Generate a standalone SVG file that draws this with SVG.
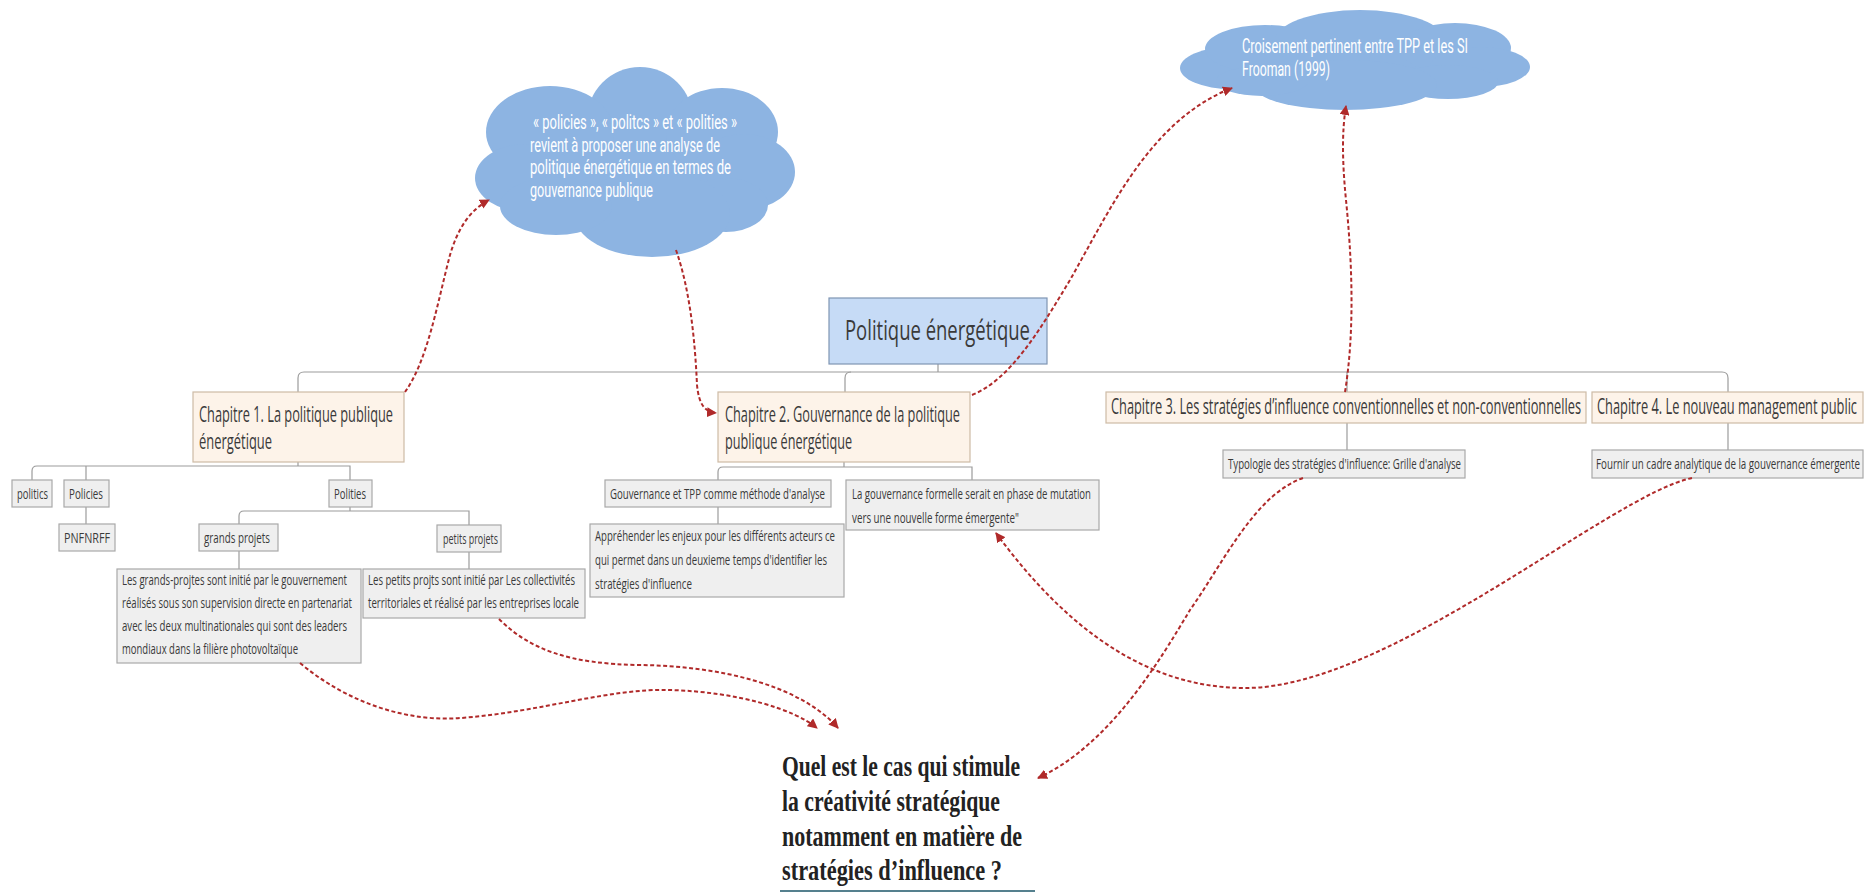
<svg xmlns="http://www.w3.org/2000/svg" width="1866" height="893" viewBox="0 0 1866 893">
<style>
.bg{fill:#ffffff}
.chap{fill:#fdf3e9;stroke:#cdbba6;stroke-width:1.2}
.leaf{fill:#efefef;stroke:#a8a8a8;stroke-width:1.2}
.root{fill:#c6dbf6;stroke:#7f95b3;stroke-width:1.2}
.t{font-family:"Open Sans","Liberation Sans",sans-serif;fill:#3a3a3a}
.ch{font-size:22px}
.sm{font-size:15px}
.cloud{fill:#8db4e2}
.ct{font-family:Roboto,"Liberation Sans",sans-serif;font-size:20px;fill:#ffffff}
.q{font-family:"Liberation Serif",serif;font-weight:bold;font-size:29px;fill:#222222}
.tree{fill:none;stroke:#9c9c9c;stroke-width:1.2}
.rel{fill:none;stroke:#b02a2a;stroke-width:2;stroke-dasharray:4 2.5}
</style>
<defs>
<marker id="ah" viewBox="0 0 10 10" refX="9" refY="5" markerWidth="5" markerHeight="5" orient="auto" markerUnits="strokeWidth">
<path d="M0,0 L10,5 L0,10 z" fill="#b02a2a"/>
</marker>
</defs>
<rect class="bg" x="0" y="0" width="1866" height="893"/>

<g id="tree-connectors">
<path class="tree" d="M938,364 V372"/>
<path class="tree" d="M298,392 V378 Q298,372 304,372 H1722 Q1728,372 1728,378 V392"/>
<path class="tree" d="M845,392 V378 Q845,372 851,372"/>
<path class="tree" d="M1347,372 V392"/>
<path class="tree" d="M298,462 V466"/>
<path class="tree" d="M32,480 V471 Q32,466 37,466 H350 V480"/>
<path class="tree" d="M86,466 V480"/>
<path class="tree" d="M86,507 V524"/>
<path class="tree" d="M350,507 V511"/>
<path class="tree" d="M239,524 V516 Q239,511 244,511 H469 V525"/>
<path class="tree" d="M239,551 V569"/>
<path class="tree" d="M469,552 V569"/>
<path class="tree" d="M844,462 V467"/>
<path class="tree" d="M718,480 V472 Q718,467 723,467 H972 V480"/>
<path class="tree" d="M718,507 V524"/>
<path class="tree" d="M1347,423 V450"/>
<path class="tree" d="M1728,423 V450"/>
</g>

<g id="cloud-1">
<ellipse class="cloud" cx="635" cy="165" rx="130" ry="62"/>
<circle class="cloud" cx="640" cy="120" r="53"/>
<ellipse class="cloud" cx="550" cy="132" rx="64" ry="46"/>
<ellipse class="cloud" cx="722" cy="132" rx="56" ry="44"/>
<ellipse class="cloud" cx="526" cy="178" rx="51" ry="34"/>
<ellipse class="cloud" cx="744" cy="172" rx="51" ry="38"/>
<ellipse class="cloud" cx="726" cy="205" rx="42" ry="27"/>
<ellipse class="cloud" cx="652" cy="214" rx="78" ry="43"/>
<ellipse class="cloud" cx="556" cy="206" rx="56" ry="29"/>
<text class="ct" x="533" y="129" textLength="204" lengthAdjust="spacingAndGlyphs">« policies », « politcs » et « polities »</text>
<text class="ct" x="530" y="152" textLength="190" lengthAdjust="spacingAndGlyphs">revient à proposer une analyse de</text>
<text class="ct" x="530" y="174" textLength="201" lengthAdjust="spacingAndGlyphs">politique énergétique  en termes de</text>
<text class="ct" x="530" y="197" textLength="123" lengthAdjust="spacingAndGlyphs">gouvernance publique</text>
</g>

<g id="cloud-2">
<ellipse class="cloud" cx="1355" cy="65" rx="150" ry="33"/>
<ellipse class="cloud" cx="1231" cy="68" rx="51" ry="21"/>
<ellipse class="cloud" cx="1265" cy="49" rx="60" ry="24"/>
<ellipse class="cloud" cx="1360" cy="42" rx="86" ry="32"/>
<ellipse class="cloud" cx="1455" cy="48" rx="56" ry="25"/>
<ellipse class="cloud" cx="1480" cy="67" rx="50" ry="20"/>
<ellipse class="cloud" cx="1448" cy="82" rx="50" ry="17"/>
<ellipse class="cloud" cx="1345" cy="85" rx="92" ry="25"/>
<ellipse class="cloud" cx="1262" cy="81" rx="46" ry="15"/>
<text class="ct" x="1242" y="53" textLength="226" lengthAdjust="spacingAndGlyphs">Croisement pertinent entre TPP et les SI</text>
<text class="ct" x="1242" y="76" textLength="88" lengthAdjust="spacingAndGlyphs">Frooman (1999)</text>
</g>

<g id="root">
<rect class="root" x="829" y="298" width="218" height="66"/>
<text class="t" x="845" y="340" font-size="27" fill="#3a4656" textLength="185" lengthAdjust="spacingAndGlyphs">Politique énergétique</text>
</g>

<g id="ch1">
<rect class="chap" x="193" y="392" width="211" height="70"/>
<text class="t ch" x="199" y="422" textLength="194" lengthAdjust="spacingAndGlyphs">Chapitre 1. La politique publique</text>
<text class="t ch" x="199" y="449" textLength="73" lengthAdjust="spacingAndGlyphs">énergétique</text>
</g>
<g id="ch2">
<rect class="chap" x="718" y="392" width="252" height="70"/>
<text class="t ch" x="725" y="422" textLength="235" lengthAdjust="spacingAndGlyphs">Chapitre 2. Gouvernance de la politique</text>
<text class="t ch" x="725" y="449" textLength="127" lengthAdjust="spacingAndGlyphs">publique énergétique</text>
</g>
<g id="ch3">
<rect class="chap" x="1106" y="392" width="480" height="31"/>
<text class="t ch" x="1111" y="414" textLength="470" lengthAdjust="spacingAndGlyphs">Chapitre 3. Les stratégies d’influence conventionnelles et non-conventionnelles</text>
</g>
<g id="ch4">
<rect class="chap" x="1592" y="392" width="271" height="31"/>
<text class="t ch" x="1597" y="414" textLength="260" lengthAdjust="spacingAndGlyphs">Chapitre 4. Le nouveau management public</text>
</g>

<g id="politics">
<rect class="leaf" x="12" y="480" width="40" height="27"/>
<text class="t sm" x="17" y="499" textLength="31" lengthAdjust="spacingAndGlyphs">politics</text>
</g>
<g id="policies">
<rect class="leaf" x="64" y="480" width="45" height="27"/>
<text class="t sm" x="69" y="499" textLength="34" lengthAdjust="spacingAndGlyphs">Policies</text>
</g>
<g id="polities">
<rect class="leaf" x="329" y="480" width="43" height="27"/>
<text class="t sm" x="334" y="499" textLength="32" lengthAdjust="spacingAndGlyphs">Polities</text>
</g>
<g id="pnfnrff">
<rect class="leaf" x="59" y="524" width="56" height="27"/>
<text class="t sm" x="64" y="543" textLength="46" lengthAdjust="spacingAndGlyphs">PNFNRFF</text>
</g>
<g id="grands-projets">
<rect class="leaf" x="199" y="524" width="79" height="27"/>
<text class="t sm" x="204" y="543" textLength="66" lengthAdjust="spacingAndGlyphs">grands projets</text>
</g>
<g id="petits-projets">
<rect class="leaf" x="437" y="525" width="64" height="27"/>
<text class="t sm" x="443" y="544" textLength="55" lengthAdjust="spacingAndGlyphs">petits projets</text>
</g>
<g id="grands-desc">
<rect class="leaf" x="117" y="569" width="244" height="94"/>
<text class="t sm" x="122" y="585" textLength="225" lengthAdjust="spacingAndGlyphs">Les grands-projtes sont initié par le gouvernement</text>
<text class="t sm" x="122" y="608" textLength="230" lengthAdjust="spacingAndGlyphs">réalisés sous son supervision directe en partenariat</text>
<text class="t sm" x="122" y="631" textLength="225" lengthAdjust="spacingAndGlyphs">avec les deux multinationales qui sont des leaders</text>
<text class="t sm" x="122" y="654" textLength="176" lengthAdjust="spacingAndGlyphs">mondiaux dans la filière photovoltaïque</text>
</g>
<g id="petits-desc">
<rect class="leaf" x="363" y="569" width="222" height="49"/>
<text class="t sm" x="368" y="585" textLength="207" lengthAdjust="spacingAndGlyphs">Les petits projts sont initié par Les collectivités</text>
<text class="t sm" x="368" y="608" textLength="211" lengthAdjust="spacingAndGlyphs">territoriales et réalisé par les entreprises locale</text>
</g>
<g id="gouvernance-tpp">
<rect class="leaf" x="605" y="480" width="226" height="27"/>
<text class="t sm" x="610" y="499" textLength="215" lengthAdjust="spacingAndGlyphs">Gouvernance et TPP comme méthode d'analyse</text>
</g>
<g id="gouvernance-formelle">
<rect class="leaf" x="846" y="480" width="253" height="50"/>
<text class="t sm" x="852" y="499" textLength="239" lengthAdjust="spacingAndGlyphs">La gouvernance formelle serait en phase de mutation</text>
<text class="t sm" x="852" y="523" textLength="167" lengthAdjust="spacingAndGlyphs">vers une nouvelle forme émergente"</text>
</g>
<g id="apprehender">
<rect class="leaf" x="590" y="524" width="254" height="73"/>
<text class="t sm" x="595" y="541" textLength="240" lengthAdjust="spacingAndGlyphs">Appréhender les enjeux pour les différents acteurs ce</text>
<text class="t sm" x="595" y="565" textLength="232" lengthAdjust="spacingAndGlyphs">qui permet dans un deuxieme temps d'identifier les</text>
<text class="t sm" x="595" y="589" textLength="97" lengthAdjust="spacingAndGlyphs">stratégies d'influence</text>
</g>
<g id="typologie">
<rect class="leaf" x="1223" y="450" width="242" height="28"/>
<text class="t sm" x="1228" y="469" textLength="233" lengthAdjust="spacingAndGlyphs">Typologie des stratégies d'influence: Grille d'analyse</text>
</g>
<g id="fournir">
<rect class="leaf" x="1592" y="450" width="271" height="28"/>
<text class="t sm" x="1596" y="469" textLength="264" lengthAdjust="spacingAndGlyphs">Fournir un cadre analytique de la gouvernance émergente</text>
</g>

<g id="question">
<text class="q" x="782" y="776" textLength="238" lengthAdjust="spacingAndGlyphs">Quel est le cas qui stimule</text>
<text class="q" x="782" y="811" textLength="218" lengthAdjust="spacingAndGlyphs">la créativité stratégique</text>
<text class="q" x="782" y="846" textLength="240" lengthAdjust="spacingAndGlyphs">notamment en matière de</text>
<text class="q" x="782" y="880" textLength="220" lengthAdjust="spacingAndGlyphs">stratégies d’influence ?</text>
<line x1="780" y1="891" x2="1035" y2="891" stroke="#55808e" stroke-width="2"/>
</g>

<g id="relations">
<path class="rel" marker-end="url(#ah)" d="M405,392 C428,360 438,300 450,255 C458,228 470,210 489,200"/>
<path class="rel" marker-end="url(#ah)" d="M676,250 C690,290 695,340 697,385 C699,405 705,412 716,413"/>
<path class="rel" marker-end="url(#ah)" d="M972,395 C1010,380 1040,330 1070,280 C1110,210 1150,120 1232,88"/>
<path class="rel" marker-end="url(#ah)" d="M1345,392 C1355,330 1352,260 1346,200 C1342,160 1342,130 1346,106"/>
<path class="rel" marker-end="url(#ah)" d="M300,663 C350,705 410,722 461,718 C540,712 610,688 670,690 C740,692 795,710 817,728"/>
<path class="rel" marker-end="url(#ah)" d="M499,619 C530,650 570,664 640,665 C720,666 800,685 838,728"/>
<path class="rel" marker-end="url(#ah)" d="M1303,478 C1255,495 1225,560 1190,610 C1160,660 1110,745 1038,778"/>
<path class="rel" marker-end="url(#ah)" d="M1692,478 C1610,495 1390,688 1245,688 C1140,688 1060,620 996,533"/>
</g>
</svg>
